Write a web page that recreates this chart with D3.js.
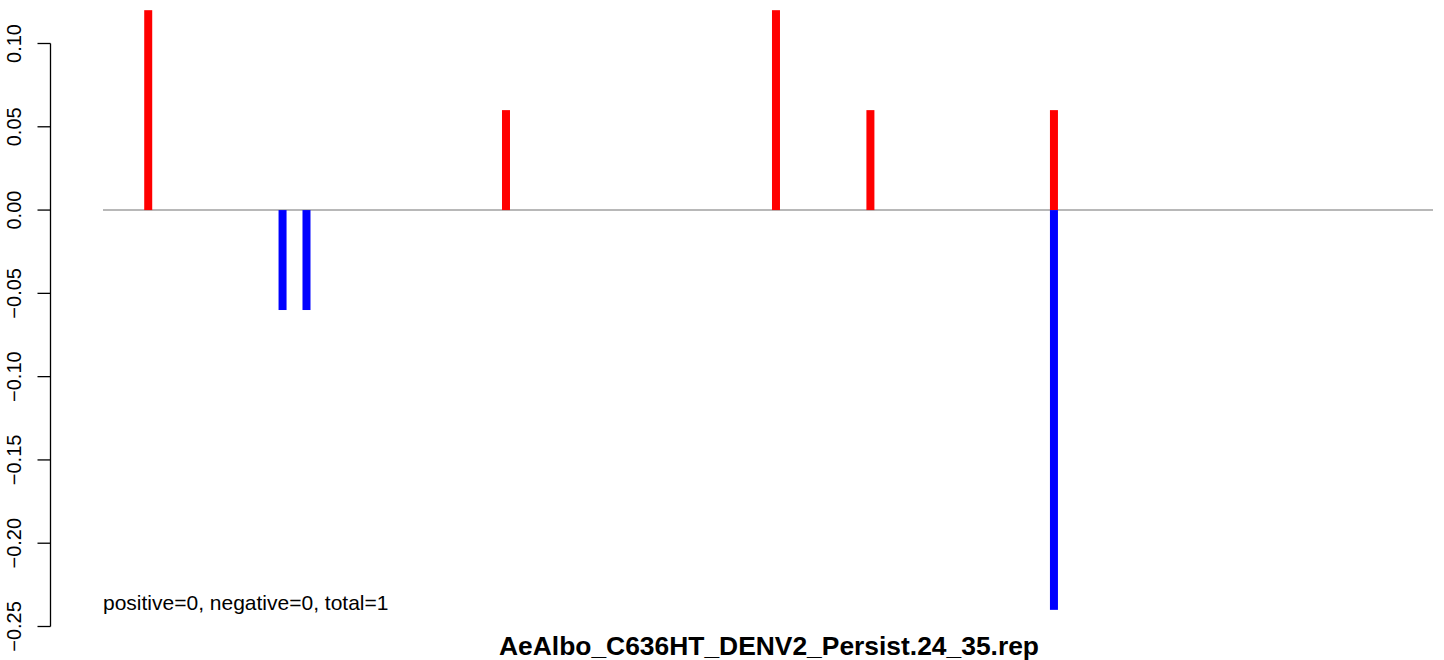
<!DOCTYPE html>
<html>
<head>
<meta charset="utf-8">
<script src="https://cdn.jsdelivr.net/npm/d3@7"></script>
<style>
  html, body { margin: 0; padding: 0; background: #fff; }
  svg { display: block; font-family: "Liberation Sans", Arial, sans-serif; }
</style>
</head>
<body>
<svg id="chart" width="1444" height="660"></svg>
<script>
// ---- data ----
const posPositions = [34, 303, 506, 577, 715];
const posValues    = [0.12, 0.06, 0.12, 0.06, 0.06];
const negPositions = [135, 153, 715];
const negValues    = [-0.06, -0.06, -0.24];
const yTicks = [-0.25, -0.20, -0.15, -0.10, -0.05, 0.00, 0.05, 0.10];
const titleText = "AeAlbo_C636HT_DENV2_Persist.24_35.rep";
const noteText = "positive=0, negative=0, total=1";
const xDomain = [0, 1000];

// ---- layout ----
const svg = d3.select("#chart");
const x = d3.scaleLinear().domain(xDomain).range([103, 1433]);
const y = d3.scaleLinear().domain([-0.25, 0.10]).range([626.5, 43.5]);
const barW = 8;

// y axis
const axisG = svg.append("g").attr("transform", "translate(50.5,0)");
axisG.append("line")
  .attr("x1", 0).attr("x2", 0)
  .attr("y1", y(d3.max(yTicks))).attr("y2", y(d3.min(yTicks)))
  .attr("stroke", "#000").attr("stroke-width", 1.3);
axisG.selectAll("line.tick").data(yTicks).enter().append("line")
  .attr("class", "tick")
  .attr("x1", -13).attr("x2", 0)
  .attr("y1", d => y(d)).attr("y2", d => y(d))
  .attr("stroke", "#000").attr("stroke-width", 1.3);
const fmt = d => (d < 0 ? "\u2212" : "") + d3.format(".2f")(Math.abs(d));
svg.selectAll("text.ylab").data(yTicks).enter().append("text")
  .attr("class", "ylab")
  .attr("transform", d => `translate(21,${y(d)}) rotate(-90)`)
  .attr("text-anchor", "middle")
  .attr("font-size", 20)
  .attr("fill", "#000")
  .text(fmt);

// baseline
svg.append("line")
  .attr("x1", x(xDomain[0])).attr("x2", x(xDomain[1]))
  .attr("y1", y(0)).attr("y2", y(0))
  .attr("stroke", "#a0a0a0").attr("stroke-width", 1.5);

// bars
svg.selectAll("rect.pos").data(posPositions.map((p, i) => ({p, v: posValues[i]})))
  .enter().append("rect").attr("class", "pos")
  .attr("x", d => x(d.p) - barW / 2).attr("width", barW)
  .attr("y", d => y(d.v)).attr("height", d => y(0) - y(d.v))
  .attr("fill", "#ff0000");
svg.selectAll("rect.neg").data(negPositions.map((p, i) => ({p, v: negValues[i]})))
  .enter().append("rect").attr("class", "neg")
  .attr("x", d => x(d.p) - barW / 2).attr("width", barW)
  .attr("y", y(0)).attr("height", d => y(d.v) - y(0))
  .attr("fill", "#0000ff");

// annotation
svg.append("text")
  .attr("x", 103).attr("y", 610)
  .attr("font-size", 21).attr("fill", "#000")
  .text(noteText);

// title (bottom)
svg.append("text")
  .attr("x", 769).attr("y", 655)
  .attr("text-anchor", "middle")
  .attr("font-size", 25).attr("font-weight", "bold").attr("fill", "#000")
  .attr("textLength", 540).attr("lengthAdjust", "spacingAndGlyphs")
  .text(titleText);
</script>
</body>
</html>
